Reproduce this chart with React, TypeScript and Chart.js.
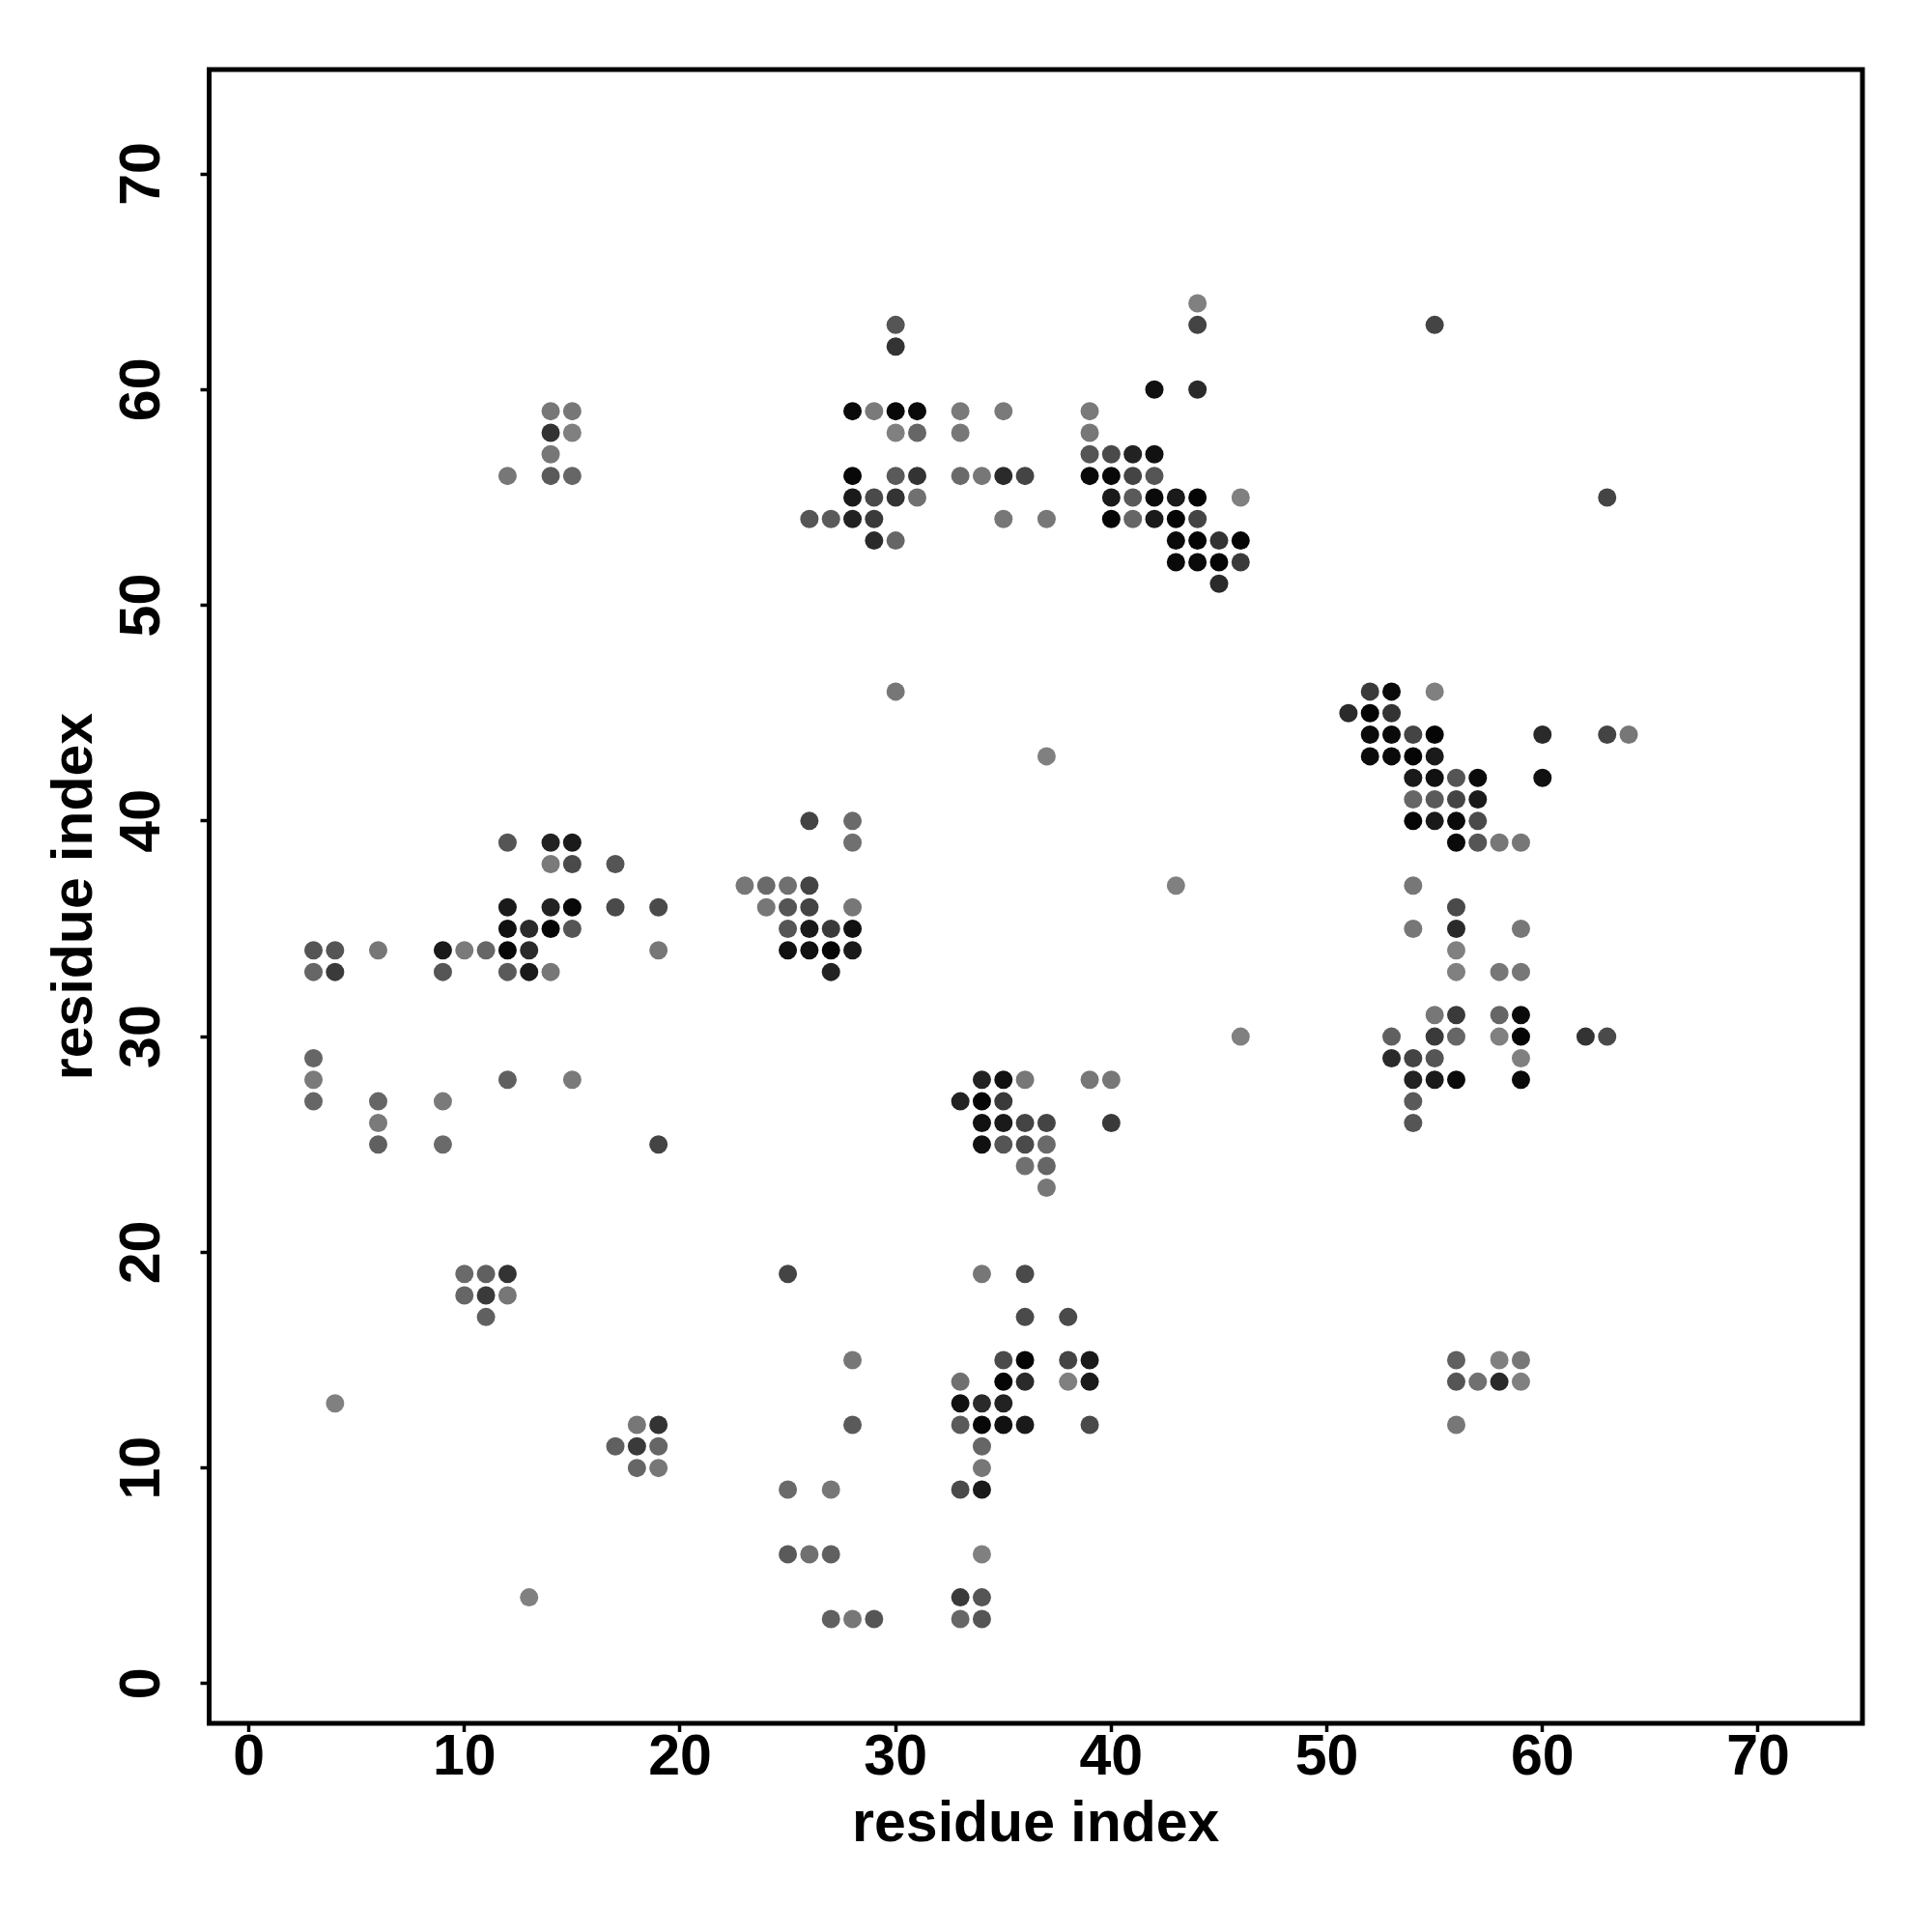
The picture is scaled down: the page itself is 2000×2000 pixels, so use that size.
import React, { useEffect, useRef } from "react";
import { Chart, registerables } from "chart.js";

Chart.register(...registerables);

const axisTitle = "residue index";
const axisMin = -1.84;
const axisMax = 74.84;
const tickStep = 10;

// residue i of each contact (grouped by column)
const contactX = [
  3, 3, 3, 3, 3,
  4, 4, 4,
  6, 6, 6, 6,
  9, 9, 9, 9,
  10, 10, 10,
  11, 11, 11, 11,
  12, 12, 12, 12, 12, 12, 12, 12, 12,
  13, 13, 13, 13,
  14, 14, 14, 14, 14, 14, 14, 14, 14,
  15, 15, 15, 15, 15, 15, 15, 15,
  17, 17, 17,
  18, 18, 18,
  19, 19, 19, 19, 19, 19,
  23,
  24, 24,
  25, 25, 25, 25, 25, 25, 25,
  26, 26, 26, 26, 26, 26, 26,
  27, 27, 27, 27, 27, 27, 27,
  28, 28, 28, 28, 28, 28, 28, 28, 28, 28, 28, 28,
  29, 29, 29, 29, 29,
  30, 30, 30, 30, 30, 30, 30, 30,
  31, 31, 31, 31,
  33, 33, 33, 33, 33, 33, 33, 33, 33, 33,
  34, 34, 34, 34, 34, 34, 34, 34, 34, 34, 34, 34, 34, 34,
  35, 35, 35, 35, 35, 35, 35, 35, 35, 35, 35,
  36, 36, 36, 36, 36, 36, 36, 36, 36, 36,
  37, 37, 37, 37, 37, 37,
  38, 38, 38,
  39, 39, 39, 39, 39, 39, 39, 39,
  40, 40, 40, 40, 40, 40,
  41, 41, 41, 41,
  42, 42, 42, 42, 42,
  43, 43, 43, 43, 43,
  44, 44, 44, 44, 44, 44, 44,
  45, 45, 45,
  46, 46, 46, 46,
  51,
  52, 52, 52, 52,
  53, 53, 53, 53, 53, 53,
  54, 54, 54, 54, 54, 54, 54, 54, 54, 54, 54,
  55, 55, 55, 55, 55, 55, 55, 55, 55, 55, 55,
  56, 56, 56, 56, 56, 56, 56, 56, 56, 56, 56, 56, 56, 56,
  57, 57, 57, 57, 57,
  58, 58, 58, 58, 58, 58,
  59, 59, 59, 59, 59, 59, 59, 59, 59,
  60, 60,
  62,
  63, 63, 63,
  64,
];

// residue j of each contact (same order)
const contactY = [
  34, 33, 29, 28, 27,
  34, 33, 13,
  34, 27, 26, 25,
  34, 33, 27, 25,
  34, 19, 18,
  34, 19, 18, 17,
  56, 39, 36, 35, 34, 33, 28, 19, 18,
  35, 34, 33, 4,
  59, 58, 57, 56, 39, 38, 36, 35, 33,
  59, 58, 56, 39, 38, 36, 35, 28,
  38, 36, 11,
  12, 11, 10,
  36, 34, 25, 12, 11, 10,
  37,
  37, 36,
  37, 36, 35, 34, 19, 9, 6,
  54, 40, 37, 36, 35, 34, 6,
  54, 35, 34, 33, 9, 6, 3,
  59, 56, 55, 54, 40, 39, 36, 35, 34, 15, 12, 3,
  59, 55, 54, 53, 3,
  63, 62, 59, 58, 56, 55, 53, 46,
  59, 58, 56, 55,
  59, 58, 56, 27, 14, 13, 12, 9, 4, 3,
  56, 28, 27, 26, 25, 19, 13, 12, 11, 10, 9, 6, 4, 3,
  59, 56, 54, 28, 27, 26, 25, 15, 14, 13, 12,
  56, 28, 26, 25, 24, 19, 17, 15, 14, 12,
  54, 43, 26, 25, 24, 23,
  17, 15, 14,
  59, 58, 57, 56, 28, 15, 14, 12,
  57, 56, 55, 54, 28, 26,
  57, 56, 55, 54,
  60, 57, 56, 55, 54,
  55, 54, 53, 52, 37,
  64, 63, 60, 55, 54, 53, 52,
  53, 52, 51,
  55, 53, 52, 30,
  45,
  46, 45, 44, 43,
  46, 45, 44, 43, 30, 29,
  44, 43, 42, 41, 40, 37, 35, 29, 28, 27, 26,
  63, 46, 44, 43, 42, 41, 40, 31, 30, 29, 28,
  42, 41, 40, 39, 36, 35, 34, 33, 31, 30, 28, 15, 14, 12,
  42, 41, 40, 39, 14,
  39, 33, 31, 30, 15, 14,
  39, 35, 33, 31, 30, 29, 28, 15, 14,
  44, 42,
  30,
  55, 44, 30,
  44,
];

// gray level of each dot (0 = black, 255 = white)
const contactGray = [
  85, 102, 102, 122, 102,
  85, 58, 128,
  119, 102, 122, 96,
  26, 85, 122, 106,
  122, 106, 102,
  102, 96, 58, 96,
  119, 85, 26, 17, 8, 90, 96, 51, 119,
  42, 42, 26, 128,
  119, 51, 119, 90, 34, 122, 34, 5, 119,
  119, 128, 102, 26, 74, 8, 85, 122,
  85, 74, 96,
  119, 58, 102,
  74, 119, 68, 51, 102, 119,
  119,
  106, 119,
  112, 85, 85, 17, 68, 106, 90,
  85, 68, 68, 68, 26, 17, 112,
  90, 58, 5, 34, 119, 96, 96,
  10, 8, 26, 34, 106, 112, 119, 17, 26, 119, 90, 119,
  122, 74, 58, 42, 85,
  85, 51, 8, 128, 90, 51, 102, 119,
  10, 102, 51, 112,
  122, 119, 106, 34, 112, 17, 90, 74, 58, 102,
  119, 34, 5, 17, 17, 119, 42, 8, 102, 119, 26, 128, 85, 85,
  122, 42, 119, 17, 58, 26, 85, 74, 5, 34, 17,
  68, 119, 68, 74, 112, 74, 74, 5, 42, 26,
  119, 128, 68, 106, 102, 119,
  74, 68, 128,
  122, 119, 85, 10, 119, 26, 26, 74,
  74, 8, 26, 5, 119, 58,
  34, 68, 90, 102,
  17, 17, 85, 10, 26,
  26, 5, 10, 10, 128,
  128, 68, 42, 5, 68, 5, 10,
  51, 5, 42,
  128, 5, 58, 128,
  42,
  58, 5, 10, 10,
  10, 51, 10, 10, 96, 42,
  68, 5, 26, 102, 5, 119, 119, 68, 34, 90, 85,
  68, 128, 5, 26, 17, 90, 26, 119, 58, 85, 26,
  85, 68, 10, 10, 74, 42, 128, 128, 58, 102, 10, 96, 85, 119,
  10, 26, 74, 85, 112,
  119, 119, 102, 128, 128, 42,
  119, 119, 119, 10, 5, 128, 10, 119, 128,
  42, 17,
  51,
  68, 68, 74,
  119,
];

const boxPlugin = {
  id: "plotBox",
  afterDatasetsDraw(chart: any) {
    const { ctx, chartArea } = chart;
    ctx.save();
    ctx.strokeStyle = "#000";
    ctx.lineWidth = 5;
    ctx.strokeRect(
      chartArea.left,
      chartArea.top,
      chartArea.right - chartArea.left,
      chartArea.bottom - chartArea.top
    );
    ctx.restore();
  },
};

export default function App() {
  const ref = useRef<HTMLCanvasElement>(null);

  useEffect(() => {
    if (!ref.current) return;
    const points = contactX.map((x, i) => ({ x, y: contactY[i] }));
    const colors = contactGray.map((g) => `rgb(${g},${g},${g})`);
    const font = {
      family: "'Liberation Sans', Arial, Helvetica, sans-serif",
      size: 59,
      weight: "bold" as const,
    };
    const grid = {
      display: true,
      drawOnChartArea: false,
      drawTicks: true,
      tickLength: 9,
      tickWidth: 3.5,
      tickColor: "#000",
    };
    const chart = new Chart(ref.current, {
      type: "scatter",
      data: {
        datasets: [
          {
            data: points,
            backgroundColor: colors,
            borderWidth: 0,
            pointRadius: 9.5,
            pointHoverRadius: 9.5,
          },
        ],
      },
      options: {
        responsive: false,
        animation: false,
        devicePixelRatio: 1,
        layout: { padding: { top: 72, right: 72, left: 0, bottom: 0 } },
        plugins: { legend: { display: false }, tooltip: { enabled: false } },
        scales: {
          x: {
            type: "linear",
            position: "bottom",
            min: axisMin,
            max: axisMax,
            afterFit: (s: any) => {
              s.height = 216;
            },
            ticks: {
              stepSize: tickStep,
              includeBounds: false,
              font,
              color: "#000",
              padding: -8,
            },
            grid,
            border: { display: false },
            title: {
              display: true,
              text: axisTitle,
              font,
              color: "#000",
              padding: { top: 0, bottom: 74.6 },
            },
          },
          y: {
            type: "linear",
            position: "left",
            min: axisMin,
            max: axisMax,
            afterFit: (s: any) => {
              s.width = 216.5;
            },
            ticks: {
              stepSize: tickStep,
              includeBounds: false,
              font,
              color: "#000",
              minRotation: 90,
              maxRotation: 90,
              crossAlign: "center",
              padding: 25.7,
            },
            grid,
            border: { display: false },
            title: {
              display: true,
              text: axisTitle,
              font,
              color: "#000",
              padding: { top: 43.6, bottom: 0 },
            },
          },
        },
      },
      plugins: [boxPlugin],
    } as any);
    return () => chart.destroy();
  }, []);

  return (
    <div
      style={{
        position: "absolute",
        left: 0,
        top: 0,
        width: 2000,
        height: 2000,
        background: "#fff",
      }}
    >
      <canvas ref={ref} width={2000} height={2000} style={{ display: "block" }} />
    </div>
  );
}
